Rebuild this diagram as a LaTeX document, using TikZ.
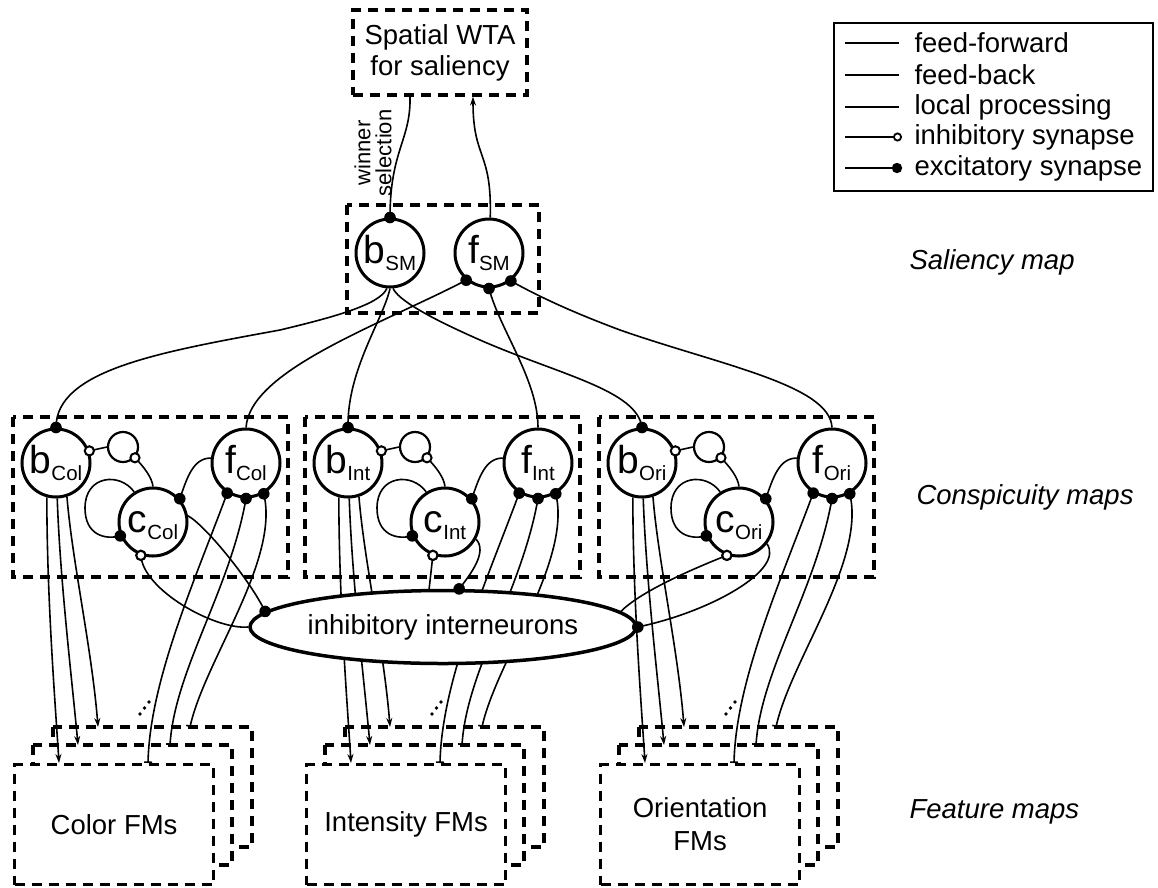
\documentclass[tikz,border=0pt]{standalone}
\usepackage{fontspec}
\setmainfont{Liberation Sans}
\usetikzlibrary{arrows.meta,shapes.geometric}

\tikzset{
  conn/.style={line width=1.6pt},
  dbox/.style={draw, dash pattern=on 10pt off 7pt, line width=3.2pt},
  neuron/.style={draw, circle, line width=3pt, fill=white, minimum size=68pt, inner sep=0pt, text height=28pt, text depth=7pt},
  lbl/.style={font=\fontsize{27.5}{31}\selectfont},
  ital/.style={font=\fontsize{27.5}{31}\selectfont\itshape},
  arr/.style={conn, -{Stealth[length=9pt,width=6pt]}},
  barend/.style={conn, -{Bar[width=8pt]}},
}
\newcommand\nlab[2]{{\fontsize{39}{39}\selectfont #1}\raisebox{-7pt}{\fontsize{20.5}{20.5}\selectfont #2}}
\newcommand\exc[1]{\fill #1 circle (5.8);}
\newcommand\inh[1]{\draw[line width=2pt, fill=white] #1 circle (4.6);}

\newcommand\cgroup[4]{%
\begin{scope}[shift={(#1,0)}]
  % feature map stack
  \draw[dbox,fill=white] (53,727) rectangle (252,847);
  \draw[dbox,fill=white] (33,745) rectangle (232,865);
  \node[dbox,fill=white,align=center,minimum width=199pt,minimum height=120pt,inner sep=0pt,anchor=north west,font=\fontsize{27.5}{33}\selectfont] (fm#2) at (13,763) {#4};
  % conspicuity box
  \draw[dbox] (13,417) rectangle (288,577);
  \node[neuron] (b#2) at (56,463) {\nlab{b}{#3}};
  \node[neuron] (c#2) at (153,522) {\nlab{c}{#3}};
  \node[neuron] (f#2) at (246,463) {\nlab{f}{#3}};
  \node[draw,circle,line width=2.2pt,minimum size=30pt,inner sep=0pt] (l#2) at (123,447) {};
  % b -> feature maps
  \draw[arr] (b#2.255) .. controls (47,600) and (55,700) .. (59,763);
  \draw[arr] (b#2.272) .. controls (60,580) and (72,680) .. (78,745);
  \draw[arr] (b#2.288) .. controls (72,560) and (92,650) .. (98,727);
  % feature maps -- f
  \draw[barend] (f#2.238) .. controls (195,580) and (150,680) .. (148,763);
  \draw[barend] (f#2.270) .. controls (230,590) and (175,670) .. (170,745);
  \draw[barend] (f#2.300) .. controls (280,560) and (205,660) .. (190,727);
  \fill (140,714) circle (1.8) (144.5,708) circle (1.8) (149,702) circle (1.8);
  % local processing
  \draw[conn] (b#2.20) -- (l#2.180);
  \draw[conn] (l#2.318) .. controls (145,468) and (152,478) .. (c#2.90);
  \draw[conn] (c#2.41) .. controls (187,478) and (193,458) .. (f#2.172);
  \draw[conn] (c#2.122) .. controls (120,472) and (85,475) .. (85,508) .. controls (85,535) and (105,540) .. (c#2.203);
  \inh{(b#2.20)} \inh{(l#2.318)} \inh{(c#2.250)}
  \exc{(c#2.41)} \exc{(c#2.203)}
  \exc{(f#2.238)} \exc{(f#2.270)} \exc{(f#2.300)}
\end{scope}}

\begin{document}
\begin{tikzpicture}[x=1pt,y=-1pt]
\useasboundingbox (0,0) rectangle (1158,887);

% top level
\node[dbox,lbl,align=center,minimum width=174pt,minimum height=85pt,inner sep=0pt] (wta) at (440,52.5) {Spatial WTA\\for saliency};
\draw[dbox] (347,205) rectangle (539,313);
\node[neuron] (bSM) at (390,253) {\nlab{b}{SM}};
\node[neuron] (fSM) at (489,253) {\nlab{f}{SM}};

% conspicuity groups with their feature maps
\cgroup{0}{Col}{Col}{Color FMs}
\cgroup{292}{Int}{Int}{Intensity FMs}
\cgroup{586}{Ori}{Ori}{Orientation\\FMs}

% inhibitory interneurons
\node[draw,ellipse,line width=3.5pt,fill=white,minimum width=386pt,minimum height=73pt,inner sep=0pt,lbl] (ell) at (443,627) {inhibitory interneurons};
\draw[conn] (cCol.250) .. controls (143,590) and (215,630) .. (ell.west);
\draw[conn] (cCol.10) .. controls (205,525) and (250,580) .. (ell.175);
\draw[conn] (cInt.250) -- (ell.110);
\draw[conn] (cInt.331) .. controls (488,552) and (470,575) .. (ell.67);
\draw[conn] (cOri.250) .. controls (690,570) and (640,592) .. (ell.5);
\draw[conn] (cOri.322) .. controls (785,570) and (710,612) .. (ell.east);
\exc{(ell.175)} \exc{(ell.67)} \exc{(ell.east)}
\inh{(cCol.250)} \inh{(cInt.250)} \inh{(cOri.250)}

% saliency map <-> conspicuity maps
\draw[conn] (bSM.265) .. controls (380,305) and (330,318) .. (280,330) .. controls (160,352) and (56,370) .. (bCol.90);
\draw[conn] (bSM.270) .. controls (383,320) and (347,370) .. (bInt.90);
\draw[conn] (bSM.275) .. controls (398,300) and (430,318) .. (480,340) .. controls (560,375) and (637,390) .. (bOri.90);
\draw[conn] (fSM.230) .. controls (380,325) and (250,370) .. (fCol.90);
\draw[conn] (fSM.270) .. controls (500,330) and (538,380) .. (fInt.90);
\draw[conn] (fSM.308) .. controls (545,300) and (580,315) .. (620,330) .. controls (720,365) and (830,385) .. (fOri.90);
\exc{(bCol.90)} \exc{(bInt.90)} \exc{(bOri.90)}
\exc{(fSM.230)} \exc{(fSM.270)} \exc{(fSM.308)}

% saliency map <-> WTA
\draw[conn] ([xshift=-30pt]wta.south) .. controls (411,140) and (390,150) .. (bSM.90);
\exc{(bSM.90)}
\draw[arr] (fSM.88) .. controls (492,150) and (473,160) .. ([xshift=33pt]wta.south);
\node[rotate=90,align=center,font=\fontsize{22}{21}\selectfont] (wsel) at (373,153) {winner\\selection};

% level labels
\node[ital,anchor=west] (lsm) at (906,262) {Saliency map};
\node[ital,anchor=west] (lcm) at (913,497) {Conspicuity maps};
\node[ital,anchor=west] (lfm) at (906,812) {Feature maps};

% legend
\draw[line width=1.8pt] (834,23) rectangle (1153,191);
\coordinate (la1) at (845,43);  \coordinate (lb1) at (899,43);
\coordinate (la2) at (845,75);  \coordinate (lb2) at (899,75);
\coordinate (la3) at (845,107); \coordinate (lb3) at (899,107);
\coordinate (la4) at (845,137); \coordinate (lb4) at (894,137);
\coordinate (la5) at (845,168); \coordinate (lb5) at (894,168);
\draw[conn] (la1) -- (lb1);
\draw[line width=1.2pt] (la2) -- (lb2);
\draw[conn] (la3) -- (lb3);
\draw[conn] (la4) -- (lb4);
\draw[conn] (la5) -- (lb5);
\draw[line width=1.8pt, fill=white] (lb4) ++(3.5,0) circle (3.6);
\fill (lb5) ++(3,0) circle (5.2);
\node[lbl,anchor=west] (t1) at (911,43) {feed-forward};
\node[lbl,anchor=west] (t2) at (911,75) {feed-back};
\node[lbl,anchor=west] (t3) at (911,107) {local processing};
\node[lbl,anchor=west] (t4) at (911,137) {inhibitory synapse};
\node[lbl,anchor=west] (t5) at (911,168) {excitatory synapse};
\end{tikzpicture}
\end{document}
